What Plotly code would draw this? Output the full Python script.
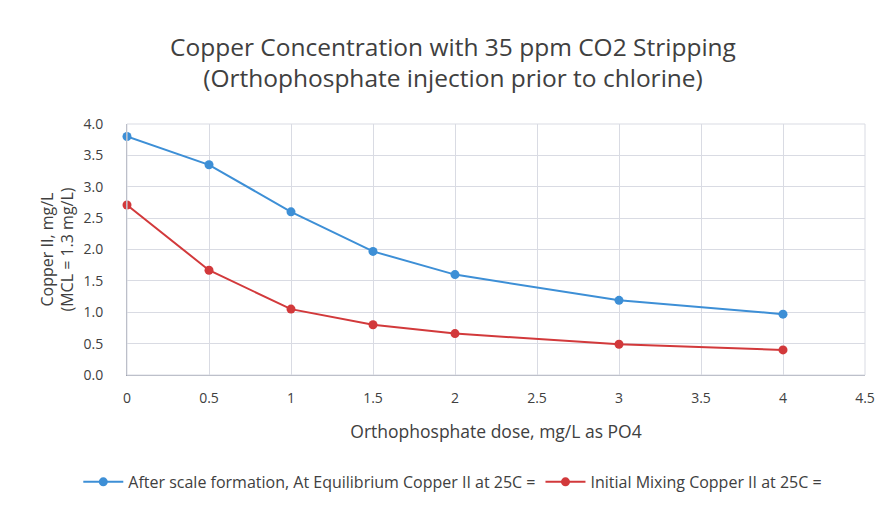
import plotly.graph_objects as go

dose = [0, 0.5, 1, 1.5, 2, 3, 4]
cu_equilibrium = [3.8, 3.35, 2.6, 1.97, 1.6, 1.19, 0.97]
cu_initial = [2.71, 1.67, 1.05, 0.8, 0.66, 0.49, 0.4]

names = [
    "After scale formation, At Equilibrium Copper II at 25C =",
    "Initial Mixing Copper II at 25C =",
]
colors = ["#3d8fd6", "#d2393b"]

FONT = "Open Sans, Noto Sans, sans-serif"
GRID = "#d9dbe3"
TXT = "#404040"

fig = go.Figure()
for y, name, c in zip([cu_equilibrium, cu_initial], names, colors):
    fig.add_trace(go.Scatter(
        x=dose, y=y, name=name, mode="lines+markers",
        line=dict(color=c, width=2),
        marker=dict(color=c, size=9),
        cliponaxis=False,
    ))

# page body adds ~8px offset, so margins are shifted accordingly
fig.update_layout(
    width=890, height=506,
    paper_bgcolor="white", plot_bgcolor="white",
    font=dict(family=FONT, color=TXT),
    title=dict(
        text="Copper Concentration with 35 ppm CO2 Stripping<br>(Orthophosphate injection prior to chlorine)",
        x=0.5, xanchor="center", y=0.906, yanchor="middle",
        font=dict(size=24.5, color=TXT),
    ),
    margin=dict(l=119, r=33, t=116, b=139),
    showlegend=True,
    legend=dict(
        orientation="h", x=-0.066, xanchor="left", y=-0.426, yanchor="middle",
        font=dict(size=16, color=TXT),
        itemwidth=40,
    ),
    xaxis=dict(
        range=[0, 4.5], dtick=0.5, tick0=0,
        showgrid=True, gridcolor=GRID, gridwidth=1,
        showline=True, linecolor="#a0a4b0",
        zeroline=False, ticks="", ticklabelstandoff=10,
        tickfont=dict(size=14, color=TXT),
        title=dict(text="Orthophosphate dose, mg/L as PO4", font=dict(size=17.5, color=TXT), standoff=19),
    ),
    yaxis=dict(
        range=[0, 4.0], dtick=0.5, tick0=0, tickformat=".1f",
        showgrid=True, gridcolor=GRID, gridwidth=1,
        showline=True, linecolor="#a0a4b0",
        zeroline=False, ticks="", ticklabelstandoff=20,
        tickfont=dict(size=14, color=TXT),
        title=dict(text="Copper II, mg/L<br>(MCL = 1.3 mg/L)", font=dict(size=16, color=TXT), standoff=5),
    ),
    shapes=[dict(
        type="rect", xref="paper", yref="paper", x0=0, x1=1, y0=0, y1=1,
        line=dict(color=GRID, width=1),
    )],
)

fig.write_html("out.html")
